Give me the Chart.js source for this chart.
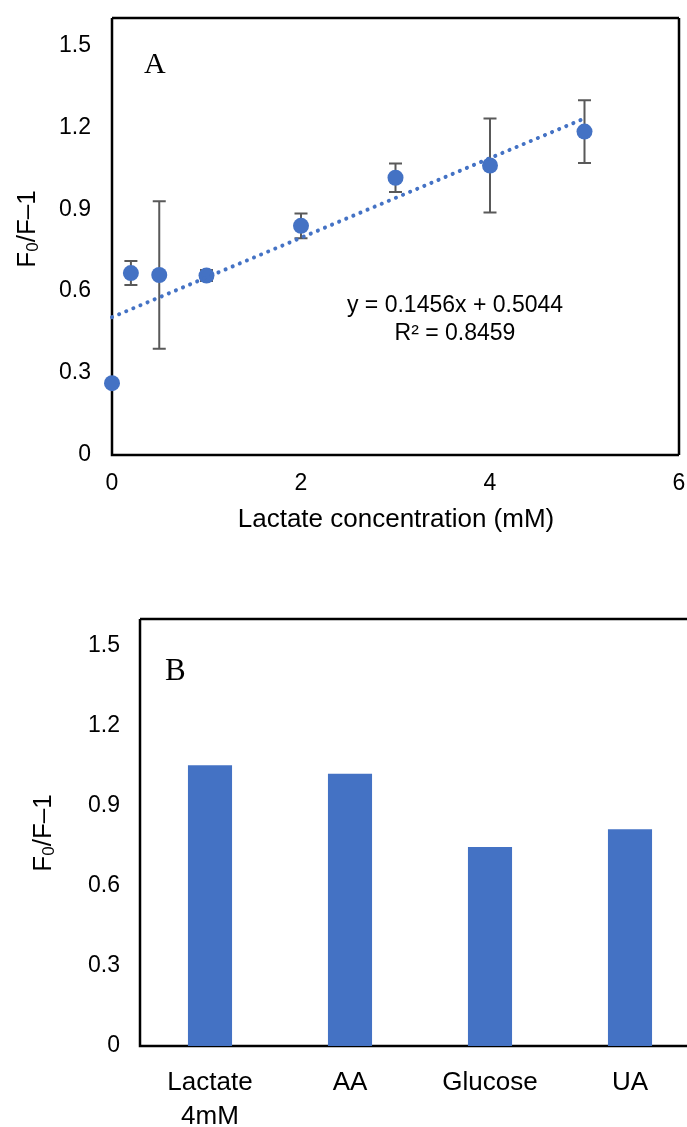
<!DOCTYPE html>
<html>
<head>
<meta charset="utf-8">
<script src="https://cdn.jsdelivr.net/npm/chart.js@4/dist/chart.umd.min.js"></script>
<style>
  html, body { margin: 0; padding: 0; background: #fff; overflow: hidden; }
  #page { position: relative; width: 687px; height: 1127px; overflow: hidden; }
  #boxA { position: absolute; left: 0; top: 0; }
  #boxB { position: absolute; left: 0; top: 560px; }
</style>
</head>
<body>
<div id="page">
  <div id="boxA"><canvas id="chartA" width="687" height="540"></canvas></div>
  <div id="boxB"><canvas id="chartB" width="712" height="567"></canvas></div>
</div>
<script>
// panel A - lactate calibration
const concentrations = [0, 0.2, 0.5, 1, 2, 3, 4, 5];
const responseA = [0.263, 0.666, 0.659, 0.657, 0.839, 1.015, 1.06, 1.184];
const errorsA = [0, 0.044, 0.27, 0.02, 0.045, 0.052, 0.172, 0.115];
// trendline end points, read from y = 0.1456x + 0.5044
const trendX = [0, 5];
const trendY = [0.5044, 1.2324];
const equationLines = ['y = 0.1456x + 0.5044', 'R\u00b2 = 0.8459'];

// panel B - selectivity
const species = [['Lactate', '4mM'], 'AA', 'Glucose', 'UA'];
const responseB = [1.052, 1.02, 0.746, 0.812];

const yTicks = [0, 0.3, 0.6, 0.9, 1.2, 1.5];

const BLUE = '#4472C4';
const SANS = '"Liberation Sans", Arial, sans-serif';
const SERIF = '"Liberation Serif", "Times New Roman", serif';

function drawYTitle(ctx, x, y) {
  // F0/F-1 with subscript 0, rotated
  ctx.save();
  ctx.translate(x, y);
  ctx.rotate(-Math.PI / 2);
  ctx.fillStyle = '#000';
  ctx.textBaseline = 'alphabetic';
  ctx.textAlign = 'left';
  const big = '26px ' + SANS, small = '17px ' + SANS;
  ctx.font = big; const w1 = ctx.measureText('F').width;
  const w3 = ctx.measureText('/F\u20131').width;
  ctx.font = small; const w2 = ctx.measureText('0').width;
  let cx = -(w1 + w2 + w3) / 2;
  ctx.font = big; ctx.fillText('F', cx, 0); cx += w1;
  ctx.font = small; ctx.fillText('0', cx, 3); cx += w2;
  ctx.font = big; ctx.fillText('/F\u20131', cx, 0);
  ctx.restore();
}

function frame(chart, sides) {
  const a = chart.chartArea, ctx = chart.ctx;
  ctx.save();
  ctx.strokeStyle = '#000';
  ctx.lineWidth = 2.5;
  ctx.beginPath();
  if (sides.includes('t')) { ctx.moveTo(a.left, a.top); ctx.lineTo(a.right, a.top); }
  if (sides.includes('r')) { ctx.moveTo(a.right, a.top); ctx.lineTo(a.right, a.bottom); }
  ctx.moveTo(a.left, a.top); ctx.lineTo(a.left, a.bottom); ctx.lineTo(a.right, a.bottom);
  ctx.stroke();
  ctx.restore();
}

const panelA = {
  id: 'panelA',
  beforeDatasetsDraw(chart) {
    frame(chart, 'tr');
    // error bars
    const ctx = chart.ctx, ys = chart.scales.y;
    const meta = chart.getDatasetMeta(1);
    ctx.save();
    ctx.strokeStyle = '#595959';
    ctx.lineWidth = 2;
    meta.data.forEach((pt, i) => {
      const e = errorsA[i];
      if (!e) return;
      const top = ys.getPixelForValue(responseA[i] + e);
      const bot = ys.getPixelForValue(responseA[i] - e);
      ctx.beginPath();
      ctx.moveTo(pt.x, top); ctx.lineTo(pt.x, bot);
      ctx.moveTo(pt.x - 6.5, top); ctx.lineTo(pt.x + 6.5, top);
      ctx.moveTo(pt.x - 6.5, bot); ctx.lineTo(pt.x + 6.5, bot);
      ctx.stroke();
    });
    ctx.restore();
  },
  afterDraw(chart) {
    const ctx = chart.ctx;
    ctx.save();
    ctx.fillStyle = '#000';
    ctx.font = '30px ' + SERIF;
    ctx.textAlign = 'left';
    ctx.fillText('A', 144, 73);
    ctx.font = '23px ' + SANS;
    ctx.textAlign = 'center';
    ctx.fillText(equationLines[0], 455, 312);
    ctx.fillText(equationLines[1], 455, 340);
    ctx.font = '26px ' + SANS;
    ctx.fillText('Lactate concentration (mM)', 396, 527);
    ctx.restore();
    drawYTitle(ctx, 35, 229);
  }
};

const panelB = {
  id: 'panelB',
  beforeDatasetsDraw(chart) { frame(chart, 't'); },
  afterDraw(chart) {
    const ctx = chart.ctx;
    ctx.save();
    ctx.fillStyle = '#000';
    ctx.font = '31px ' + SERIF;
    ctx.fillText('B', 165, 120);
    ctx.restore();
    drawYTitle(ctx, 51, 273);
  }
};

function yAxis(width, pad) {
  return {
    min: 0, max: 1.6,
    afterBuildTicks: s => { s.ticks = yTicks.map(v => ({ value: v })); },
    afterFit: s => { s.width = width; s.paddingTop = 0; s.paddingBottom = 0; },
    grid: { display: false, drawTicks: false },
    border: { display: false },
    ticks: {
      padding: pad, color: '#000',
      font: { family: SANS, size: 23 },
      callback: v => String(+v.toFixed(1))
    }
  };
}

Chart.defaults.animation = false;
Chart.defaults.plugins.legend.display = false;
Chart.defaults.plugins.tooltip.enabled = false;

new Chart(document.getElementById('chartA'), {
  type: 'scatter',
  data: {
    datasets: [
      {
        type: 'line',
        data: trendX.map((x, i) => ({ x, y: trendY[i] })),
        borderColor: BLUE, borderWidth: 4,
        borderDash: [0.1, 7.6], borderCapStyle: 'round',
        pointRadius: 0, fill: false, clip: false
      },
      {
        data: concentrations.map((x, i) => ({ x, y: responseA[i] })),
        backgroundColor: BLUE, borderWidth: 0,
        pointRadius: 8, clip: false
      }
    ]
  },
  options: {
    responsive: false,
    layout: { padding: { top: 18, right: 7, left: 0, bottom: 0 } },
    scales: {
      x: {
        type: 'linear', min: 0, max: 6,
        afterBuildTicks: s => { s.ticks = [0, 2, 4, 6].map(v => ({ value: v })); },
        afterFit: s => { s.height = 85; s.paddingLeft = 0; s.paddingRight = 0; },
        grid: { display: false, drawTicks: false },
        border: { display: false },
        ticks: { padding: 15, color: '#000', font: { family: SANS, size: 23 } }
      },
      y: yAxis(112, 21)
    }
  },
  plugins: [panelA]
});

new Chart(document.getElementById('chartB'), {
  type: 'bar',
  data: {
    labels: species,
    datasets: [{
      data: responseB,
      backgroundColor: BLUE,
      barPercentage: 1,
      categoryPercentage: 0.315
    }]
  },
  options: {
    responsive: false,
    layout: { padding: { top: 59, right: 12, left: 0, bottom: 0 } },
    scales: {
      x: {
        afterFit: s => { s.height = 81; s.paddingLeft = 0; s.paddingRight = 0; },
        grid: { display: false, drawTicks: false },
        border: { display: false },
        ticks: {
          padding: 20, color: '#000', maxRotation: 0, autoSkip: false,
          font: { family: SANS, size: 26, lineHeight: 1.3 }
        }
      },
      y: yAxis(140, 20)
    }
  },
  plugins: [panelB]
});
</script>
</body>
</html>
